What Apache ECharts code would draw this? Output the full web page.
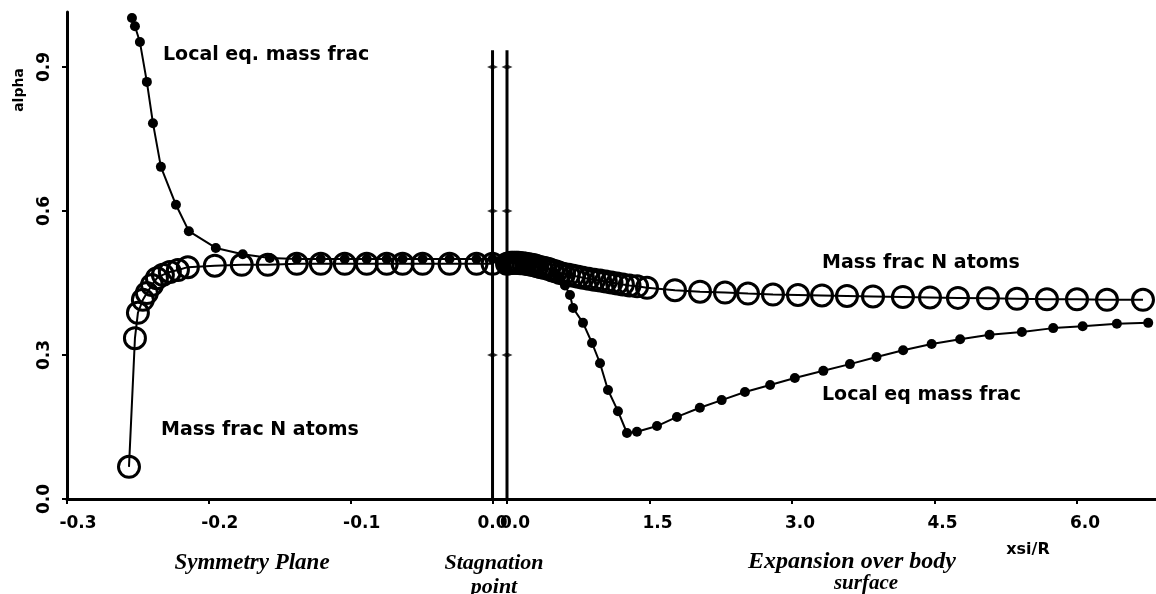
<!DOCTYPE html>
<html>
<head>
<meta charset="utf-8">
<script src="https://cdn.jsdelivr.net/npm/echarts@6/dist/echarts.min.js"></script>
<style>
html,body{margin:0;padding:0;background:#fff;}
#chart{width:1156px;height:594px;}
</style>
</head>
<body>
<div id="chart"></div>
<script>
// ---- data ----
const yTicks = [0, 0.3, 0.6, 0.9];
const xTicksLeft = [-0.3, -0.2, -0.1, 0];
const xTicksRight = [0, 1.5, 3, 4.5, 6];

// Symmetry plane (left panel)
const leftLocalX = [-0.2542,-0.2521,-0.2486,-0.2437,-0.2394,-0.2338,-0.2232,-0.2141,-0.1951,-0.1761,-0.157,-0.138,-0.1211,-0.1042,-0.0887,-0.0746,-0.0634,-0.0493,-0.0303,-0.0113,0];
const leftLocalY = [1.002,0.985,0.952,0.869,0.783,0.692,0.613,0.558,0.523,0.51,0.502,0.5,0.5,0.5,0.5,0.5,0.5,0.5,0.5,0.5,0.5];
const leftMassX = [-0.2563,-0.2521,-0.25,-0.2465,-0.2437,-0.2401,-0.2366,-0.2324,-0.2275,-0.2218,-0.2148,-0.1958,-0.1768,-0.1585,-0.138,-0.1211,-0.1042,-0.0887,-0.0746,-0.0634,-0.0493,-0.0303,-0.0113,0];
const leftMassY = [0.067,0.335,0.388,0.415,0.429,0.446,0.46,0.467,0.473,0.477,0.483,0.486,0.488,0.488,0.49,0.49,0.49,0.49,0.49,0.49,0.49,0.49,0.49,0.49];

// Expansion over body surface (right panel)
const rightMassX = [0,0.02,0.04,0.06,0.08,0.1,0.12,0.14,0.17,0.2,0.23,0.26,0.29,0.32,0.36,0.4,0.44,0.48,0.52,0.56,0.6,0.65,0.7,0.75,0.8,0.86,0.92,0.98,1.04,1.1,1.16,1.22,1.29,1.37,1.474,1.768,2.032,2.295,2.537,2.8,3.063,3.316,3.579,3.853,4.168,4.453,4.747,5.063,5.368,5.684,6.0,6.316,6.695];
const rightMassY = [0.49,0.491,0.492,0.492,0.492,0.492,0.492,0.491,0.491,0.49,0.489,0.488,0.487,0.485,0.483,0.481,0.479,0.476,0.474,0.471,0.469,0.467,0.465,0.463,0.461,0.459,0.457,0.455,0.453,0.451,0.449,0.447,0.445,0.443,0.44,0.435,0.432,0.43,0.428,0.426,0.425,0.424,0.423,0.422,0.421,0.42,0.419,0.418,0.417,0.416,0.416,0.415,0.415];
const rightLocalX = [0,0.06,0.12,0.2,0.28,0.38,0.49,0.55,0.61,0.663,0.695,0.8,0.895,0.979,1.063,1.168,1.263,1.368,1.579,1.789,2.03,2.26,2.505,2.77,3.03,3.33,3.61,3.89,4.17,4.47,4.77,5.08,5.42,5.75,6.06,6.42,6.75];
const rightLocalY = [0.5,0.5,0.499,0.497,0.493,0.486,0.474,0.462,0.445,0.425,0.398,0.367,0.325,0.283,0.227,0.183,0.1375,0.14,0.152,0.171,0.19,0.206,0.223,0.2375,0.252,0.267,0.281,0.296,0.31,0.323,0.333,0.342,0.348,0.356,0.36,0.365,0.367];

// stagnation point marker lines
const stagX = 0;
const stagTop = 0.935;
const stagCrosses = [0.3, 0.6, 0.9];

const zip = (xs, ys) => xs.map((x, i) => [x, ys[i]]);

// ---- styling ----
const INK = '#000';
const sansBold = 'bold 19px "DejaVu Sans"';
const serifIt = (px) => 'italic bold ' + px + 'px "Liberation Serif"';
const tickFont = { fontFamily: 'DejaVu Sans', fontWeight: 'bold', fontSize: 17, color: INK };

const chart = echarts.init(document.getElementById('chart'), null, { renderer: 'canvas' });

const axisLine = { show: true, onZero: false, lineStyle: { color: INK, width: 3 } };
const axisTick = (vals) => ({ show: true, length: 5, inside: false, lineStyle: { color: INK, width: 2 }, customValues: vals });

const massStyle = {
  type: 'line', symbol: 'circle', symbolSize: 21, showSymbol: true,
  lineStyle: { color: INK, width: 2 },
  itemStyle: { color: 'rgba(255,255,255,0)', borderColor: INK, borderWidth: 3 },
  animation: false, z: 3
};
const localStyle = {
  type: 'line', symbol: 'circle', symbolSize: 10, showSymbol: true,
  lineStyle: { color: INK, width: 2 },
  itemStyle: { color: INK, borderWidth: 0 },
  animation: false, z: 4
};

const option = {
  backgroundColor: '#fff',
  animation: false,
  grid: [
    { left: 67, top: 12, width: 440, height: 487, containLabel: false, outerBoundsMode: 'none' },
    { left: 507, top: 12, width: 649, height: 487, containLabel: false, outerBoundsMode: 'none' }
  ],
  xAxis: [
    {
      gridIndex: 0, type: 'value', min: -0.3, max: 0.0102,
      axisLine, axisTick: axisTick(xTicksLeft), splitLine: { show: false },
      axisLabel: {
        ...tickFont, margin: 16, customValues: xTicksLeft,
        formatter: v => (v < 0 ? '{neg|' : '{zero|') + v.toFixed(1) + '}',
        rich: {
          neg: { ...tickFont, padding: [0, 0, 0, 22] },
          zero: { ...tickFont, padding: [0, 0, 0, 0] }
        }
      }
    },
    {
      gridIndex: 1, type: 'value', min: 0, max: 6.832,
      axisLine, axisTick: axisTick(xTicksRight), splitLine: { show: false },
      axisLabel: { ...tickFont, margin: 16, padding: [0, 0, 0, 16], customValues: xTicksRight, formatter: v => v.toFixed(1) }
    }
  ],
  yAxis: [
    {
      gridIndex: 0, type: 'value', min: 0, max: 1.0146,
      axisLine, axisTick: axisTick(yTicks), splitLine: { show: false },
      axisLabel: { ...tickFont, rotate: 90, margin: 14, customValues: yTicks, formatter: v => v.toFixed(1) }
    },
    {
      gridIndex: 1, type: 'value', min: 0, max: 1.0146, show: false, splitLine: { show: false }
    }
  ],
  series: [
    // stagnation point lines
    { type: 'line', xAxisIndex: 0, yAxisIndex: 0, data: [[stagX, 0], [stagX, stagTop]], showSymbol: false, symbol: 'none',
      lineStyle: { color: INK, width: 3 }, z: 1, animation: false },
    { type: 'line', xAxisIndex: 1, yAxisIndex: 1, data: [[stagX, 0], [stagX, stagTop]], showSymbol: false, symbol: 'none',
      lineStyle: { color: INK, width: 3 }, z: 1, animation: false },
    { type: 'scatter', xAxisIndex: 0, yAxisIndex: 0, data: stagCrosses.map(v => [stagX, v]), symbol: 'diamond', symbolSize: [11, 5],
      itemStyle: { color: INK }, z: 2, animation: false },
    { type: 'scatter', xAxisIndex: 1, yAxisIndex: 1, data: stagCrosses.map(v => [stagX, v]), symbol: 'diamond', symbolSize: [11, 5],
      itemStyle: { color: INK }, z: 2, animation: false },
    // curves
    { ...massStyle, name: 'Mass frac N atoms', xAxisIndex: 0, yAxisIndex: 0, data: zip(leftMassX, leftMassY) },
    { ...localStyle, name: 'Local eq. mass frac', xAxisIndex: 0, yAxisIndex: 0, data: zip(leftLocalX, leftLocalY) },
    { ...massStyle, name: 'Mass frac N atoms (body)', xAxisIndex: 1, yAxisIndex: 1, data: zip(rightMassX, rightMassY) },
    { ...localStyle, name: 'Local eq mass frac (body)', xAxisIndex: 1, yAxisIndex: 1, data: zip(rightLocalX, rightLocalY) }
  ],
  graphic: [
    { type: 'text', x: 19, y: 90, rotation: Math.PI / 2,
      style: { text: 'alpha', font: 'bold 14px "DejaVu Sans"', fill: INK, textAlign: 'center', textVerticalAlign: 'middle' } },
    { type: 'text', x: 163, y: 55,
      style: { text: 'Local eq. mass frac', font: sansBold, fill: INK, textAlign: 'left', textVerticalAlign: 'middle' } },
    { type: 'text', x: 161, y: 430,
      style: { text: 'Mass frac N atoms', font: sansBold, fill: INK, textAlign: 'left', textVerticalAlign: 'middle' } },
    { type: 'text', x: 822, y: 263,
      style: { text: 'Mass frac N atoms', font: sansBold, fill: INK, textAlign: 'left', textVerticalAlign: 'middle' } },
    { type: 'text', x: 822, y: 395,
      style: { text: 'Local eq mass frac', font: sansBold, fill: INK, textAlign: 'left', textVerticalAlign: 'middle' } },
    { type: 'text', x: 1028, y: 550,
      style: { text: 'xsi/R', font: 'bold 16px "DejaVu Sans"', fill: INK, textAlign: 'center', textVerticalAlign: 'middle' } },
    { type: 'text', x: 252, y: 563,
      style: { text: 'Symmetry Plane', font: serifIt(23), fill: INK, textAlign: 'center', textVerticalAlign: 'middle' } },
    { type: 'text', x: 494, y: 563,
      style: { text: 'Stagnation', font: serifIt(22), fill: INK, textAlign: 'center', textVerticalAlign: 'middle' } },
    { type: 'text', x: 494, y: 587,
      style: { text: 'point', font: serifIt(22), fill: INK, textAlign: 'center', textVerticalAlign: 'middle' } },
    { type: 'text', x: 852, y: 562,
      style: { text: 'Expansion over body', font: serifIt(24), fill: INK, textAlign: 'center', textVerticalAlign: 'middle' } },
    { type: 'text', x: 866, y: 584,
      style: { text: 'surface', font: serifIt(21), fill: INK, textAlign: 'center', textVerticalAlign: 'middle' } }
  ]
};

chart.setOption(option);
</script>
</body>
</html>
